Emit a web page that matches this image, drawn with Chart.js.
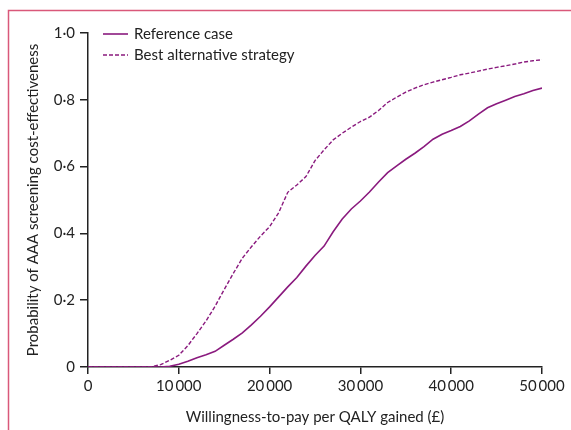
<!DOCTYPE html>
<html lang="en">

<head>
  <meta charset="UTF-8">
  <title>AAA screening CEAC</title>
  <style>
    * {
      margin: 0;
      padding: 0;
      box-sizing: border-box;
    }

    body {
      background: #fff;
      width: 571px;
      height: 430px;
      overflow: hidden;
    }

    .chart-container {
      position: relative;
      width: 571px;
      height: 430px;
    }
  </style>
</head>

<body>
  <div class="chart-container">
    <canvas id="chart"></canvas>
  </div>

  <script src="https://cdn.jsdelivr.net/npm/chart.js@4.4.1/dist/chart.umd.min.js"></script>
  <script>
    // willingness-to-pay (£ per QALY)
    const wtp = [0, 1000, 2000, 3000, 4000, 5000, 6000, 7000, 8000, 9000,
      10000, 11000, 12000, 13000, 14000, 15000, 16000, 17000, 18000, 19000,
      20000, 21000, 22000, 23000, 24000, 25000, 26000, 27000, 28000, 29000,
      30000, 31000, 32000, 33000, 34000, 35000, 36000, 37000, 38000, 39000,
      40000, 41000, 42000, 43000, 44000, 45000, 46000, 47000, 48000, 49000, 50000];
    const referenceCase = [0, 0, 0, 0, 0, 0, 0, 0, 0, 0.002,
      0.008, 0.017, 0.028, 0.037, 0.047, 0.065, 0.083, 0.102, 0.126, 0.152,
      0.18, 0.21, 0.24, 0.268, 0.302, 0.334, 0.362, 0.405, 0.443, 0.473,
      0.497, 0.524, 0.554, 0.582, 0.602, 0.622, 0.64, 0.66, 0.682, 0.697,
      0.708, 0.72, 0.737, 0.757, 0.776, 0.788, 0.799, 0.81, 0.818, 0.828, 0.835];
    const bestAlternative = [0, 0, 0, 0, 0, 0, 0, 0.001, 0.007, 0.02,
      0.035, 0.064, 0.1, 0.138, 0.182, 0.232, 0.28, 0.326, 0.36, 0.392,
      0.42, 0.462, 0.523, 0.545, 0.57, 0.618, 0.65, 0.68, 0.70, 0.718,
      0.735, 0.748, 0.768, 0.792, 0.808, 0.823, 0.835, 0.845, 0.853, 0.86,
      0.867, 0.875, 0.88, 0.886, 0.892, 0.897, 0.902, 0.907, 0.913, 0.917, 0.92];
    const seriesNames = ['Reference case', 'Best alternative strategy'];

    const purple = '#8a1a7e';
    const ink = '#222';
    const font = 'Lato, "Noto Sans", sans-serif';
    const fontSize = 15;

    // pink frame on the top and left edge
    const framePlugin = {
      id: 'frame',
      beforeDraw(chart) {
        const ctx = chart.ctx;
        ctx.save();
        ctx.strokeStyle = '#d9587a';
        ctx.lineWidth = 1.5;
        ctx.beginPath();
        ctx.moveTo(8.5, chart.height);
        ctx.lineTo(8.5, 10.5);
        ctx.lineTo(chart.width, 10.5);
        ctx.stroke();
        ctx.restore();
      }
    };

    // legend with short line samples in the top left of the plot
    const lineLegend = {
      id: 'lineLegend',
      afterDraw(chart) {
        const ctx = chart.ctx;
        const x0 = chart.chartArea.left + 15;
        let y = chart.chartArea.top + 1;
        ctx.save();
        ctx.font = fontSize + 'px ' + font;
        ctx.textBaseline = 'middle';
        chart.data.datasets.forEach(ds => {
          ctx.strokeStyle = ds.borderColor;
          ctx.lineWidth = ds.borderWidth;
          ctx.setLineDash(ds.borderDash || []);
          ctx.beginPath();
          ctx.moveTo(x0, y);
          ctx.lineTo(x0 + 25, y);
          ctx.stroke();
          ctx.setLineDash([]);
          ctx.fillStyle = ink;
          ctx.fillText(ds.label, x0 + 31, y);
          y += 21;
        });
        ctx.restore();
      }
    };

    const fmtY = v => v === 0 ? '0' : v.toFixed(1).replace('.', '\u00b7');
    const fmtX = v => v === 0 ? '0' : String(v).replace(/(\d+)(\d{3})$/, '$1\u2009$2');

    new Chart(document.getElementById('chart'), {
      type: 'line',
      data: {
        datasets: [{
          label: seriesNames[0],
          data: wtp.map((x, i) => ({x, y: referenceCase[i]})),
          borderColor: purple,
          borderWidth: 1.6,
          pointRadius: 0,
          tension: 0
        }, {
          label: seriesNames[1],
          data: wtp.map((x, i) => ({x, y: bestAlternative[i]})),
          borderColor: purple,
          borderWidth: 1.4,
          borderDash: [4, 2],
          pointRadius: 0,
          tension: 0
        }]
      },
      options: {
        responsive: true,
        maintainAspectRatio: false,
        animation: false,
        layout: {padding: {left: 20, right: 29, top: 33, bottom: 0}},
        plugins: {
          legend: {display: false},
          tooltip: {enabled: false}
        },
        scales: {
          x: {
            type: 'linear',
            min: 0,
            max: 50000,
            afterFit: s => { s.height = 63; },
            border: {display: true, color: ink, width: 1.5},
            grid: {drawOnChartArea: false, drawTicks: true, tickLength: 7, color: ink, lineWidth: 1.5},
            ticks: {stepSize: 10000, color: ink, font: {family: font, size: fontSize}, padding: 3, callback: fmtX, maxRotation: 0},
            title: {display: true, text: 'Willingness-to-pay per QALY gained (\u00a3)', color: ink, font: {family: font, size: fontSize}, padding: {top: 4}}
          },
          y: {
            min: 0,
            max: 1,
            afterFit: s => { s.width = 68; },
            border: {display: true, color: ink, width: 1.5},
            grid: {drawOnChartArea: false, drawTicks: true, tickLength: 8, color: ink, lineWidth: 1.5},
            ticks: {stepSize: 0.2, color: ink, font: {family: font, size: fontSize}, padding: 5, callback: fmtY},
            title: {display: true, text: 'Probability of AAA screening cost-effectiveness', color: ink, font: {family: font, size: fontSize}, padding: {bottom: 4}}
          }
        }
      },
      plugins: [framePlugin, lineLegend]
    });
  </script>
</body>

</html>
